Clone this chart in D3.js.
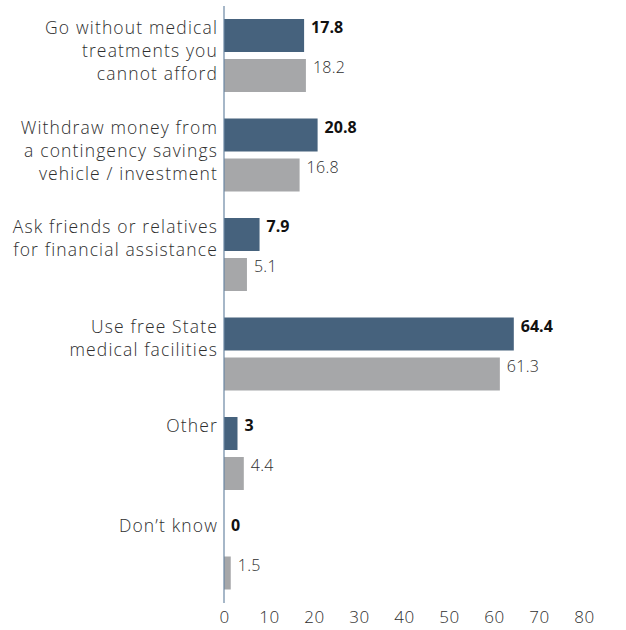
<!DOCTYPE html>
<html><head><meta charset="utf-8">
<script src="https://cdn.jsdelivr.net/npm/d3@7"></script>
<style>
body{margin:0;background:#fff;}
text{font-family:"Open Sans",Lato,sans-serif;}
</style></head>
<body>
<svg id="c" width="626" height="630"></svg>
<script>
const categories = [
  ["Go without medical","treatments you","cannot afford"],
  ["Withdraw money from","a contingency savings","vehicle / investment"],
  ["Ask friends or relatives","for financial assistance"],
  ["Use free State","medical facilities"],
  ["Other"],
  ["Don\u2019t know"]
];
const seriesA = [17.8, 20.8, 7.9, 64.4, 3, 0];
const seriesB = [18.2, 16.8, 5.1, 61.3, 4.4, 1.5];
const ticks = [0,10,20,30,40,50,60,70,80];

const svg = d3.select("#c");
const x = d3.scaleLinear().domain([0,80]).range([224,584]);
const y = d3.scaleBand().domain(d3.range(categories.length)).range([6,603]).paddingInner(0).paddingOuter(0);
const off1 = 13, off2 = 53, bh = 33;

const g = svg.append("g");
categories.forEach((c,i)=>{
  const top = y(i)+off1;
  const t = g.append("text").attr("text-anchor","end").attr("fill","#2e2e2e")
    .attr("font-size",17.5).attr("font-weight",300).attr("letter-spacing",1.15).attr("x",218);
  c.forEach((line,j)=>{
    t.append("tspan").attr("x",218).attr("y",top+15+j*23).text(line);
  });
});

g.selectAll("rect.a").data(seriesA).join("rect")
  .attr("x",x(0)).attr("y",(d,i)=>y(i)+off1).attr("height",bh)
  .attr("width",d=>x(d)-x(0)).attr("fill","#46627d");
g.selectAll("rect.b").data(seriesB).join("rect")
  .attr("x",x(0)).attr("y",(d,i)=>y(i)+off2).attr("height",bh)
  .attr("width",d=>x(d)-x(0)).attr("fill","#a6a7a9");

g.selectAll("text.va").data(seriesA).join("text")
  .attr("x",d=>x(d)+7).attr("y",(d,i)=>y(i)+off1+14)
  .attr("font-size",16).attr("font-weight","bold").attr("fill","#111")
  .text(d=>d);
g.selectAll("text.vb").data(seriesB).join("text")
  .attr("x",d=>x(d)+7).attr("y",(d,i)=>y(i)+off2+14)
  .attr("font-size",16).attr("font-weight",300).attr("letter-spacing",0.3).attr("fill","#2e2e2e")
  .text(d=>d);

svg.append("line").attr("x1",x(0)).attr("x2",x(0)).attr("y1",6).attr("y2",603)
  .attr("stroke","#6b87a3").attr("stroke-width",1.2);

const ax = svg.append("g").attr("transform","translate(0,603)")
  .call(d3.axisBottom(x).tickValues(ticks).tickSize(0).tickPadding(8));
ax.select(".domain").remove();
ax.selectAll("text").attr("font-size",17).attr("font-weight",300).attr("letter-spacing",0.5).attr("fill","#2e2e2e").attr("font-family","'Open Sans',sans-serif");
</script>
</body></html>
